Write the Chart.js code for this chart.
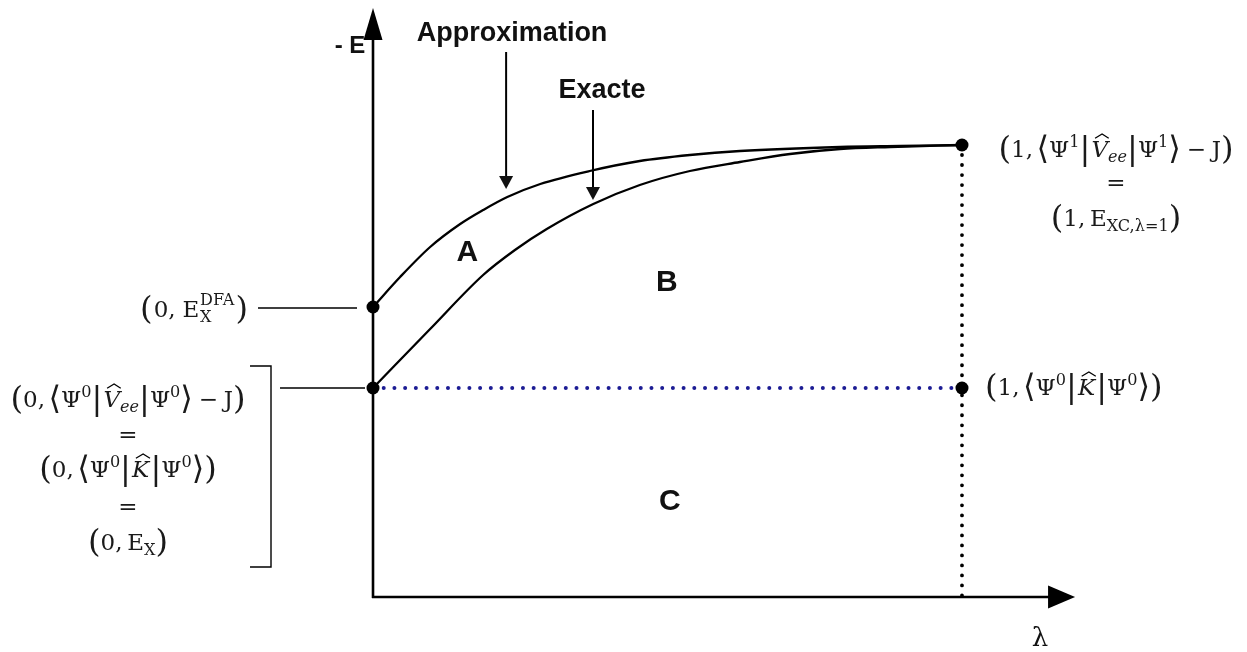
<!DOCTYPE html>
<html>
<head>
<meta charset="utf-8">
<title>Connexion adiabatique</title>
<script src="https://cdn.jsdelivr.net/npm/chart.js@4/dist/chart.umd.min.js"></script>
<style>
  html, body { margin: 0; padding: 0; background: #ffffff; }
  #wrap { width: 1247px; height: 652px; position: relative; }
</style>
</head>
<body>
<div id="wrap"><canvas id="chart"></canvas></div>
<script>
// Coupling constant λ (horizontal) against -E (vertical, arbitrary units).
const lambdaApprox = [0, 0.046, 0.097, 0.148, 0.187, 0.228, 0.284, 0.368, 0.453, 0.538, 0.623, 0.793, 0.895, 1];
const energyApprox = [2.90, 3.20, 3.50, 3.73, 3.87, 4.00, 4.13, 4.26, 4.36, 4.42, 4.46, 4.50, 4.51, 4.52];
const lambdaExact  = [0, 0.097, 0.187, 0.241, 0.295, 0.374, 0.453, 0.538, 0.623, 0.708, 0.793, 0.878, 1];
const energyExact  = [2.09, 2.68, 3.22, 3.47, 3.68, 3.93, 4.12, 4.26, 4.35, 4.43, 4.48, 4.50, 4.52];
const energyX   = 2.09;   // (0, E_X) = <Ψ0|K|Ψ0>
const energyDFA = 2.90;   // (0, E_X^DFA)
const energyXC1 = 4.52;   // (1, E_XC,λ=1)
const regionNames   = ['A', 'B', 'C'];
const regionLambda  = [0.160, 0.499, 0.504];
const regionEnergy  = [3.44, 3.14, 0.95];
const curveNames    = ['Approximation', 'Exacte'];
const curveArrowLambda = [0.226, 0.3735];
const axisLambdaEnd = 1.192;
const axisEnergyEnd = 5.89;

const SANS = '"Liberation Sans", Arial, sans-serif';
const SERIF = '"DejaVu Serif", "Liberation Serif", serif';

// typeset pieces of a formula: size factor, italic, vertical shift (in em)
const KIND = {
  n:    { scale: 1,   dy: 0 },
  i:    { scale: 1,   dy: 0, italic: true },
  d:    { scale: 1.4, dy: 0.12 },
  sup:  { scale: 0.7, dy: -0.42 },
  sub:  { scale: 0.7, dy: 0.22 },
  subi: { scale: 0.7, dy: 0.22, italic: true },
  hat:  { scale: 1,   dy: 0, italic: true, hat: true },
  stack:{ scale: 0.7, dy: 0 }
};
function kfont(kind, s) {
  const k = KIND[kind];
  return (k.italic ? 'italic ' : '') + (s * k.scale).toFixed(2) + 'px ' + SERIF;
}
function drawMath(ctx, parts, x, yc, align, s) {
  let total = 0;
  const items = parts.map(p => {
    const [t, kind, gap, t2] = p;
    ctx.font = kfont(kind, s);
    let w = ctx.measureText(t).width;
    if (kind === 'stack') w = Math.max(w, ctx.measureText(t2).width);
    total += w + (gap || 0) * s;
    return { t, kind, gap: gap || 0, t2, w };
  });
  let cx = align === 'center' ? x - total / 2 : align === 'right' ? x - total : x;
  const base = yc + 0.33 * s;
  ctx.textAlign = 'left';
  ctx.textBaseline = 'alphabetic';
  for (const it of items) {
    const k = KIND[it.kind];
    ctx.font = kfont(it.kind, s);
    if (it.kind === 'stack') {
      ctx.fillText(it.t, cx, base - 0.5 * s);
      ctx.fillText(it.t2, cx, base + 0.25 * s);
    } else {
      ctx.fillText(it.t, cx, base + k.dy * s);
    }
    if (k.hat) {
      ctx.save();
      ctx.lineWidth = 1.3;
      ctx.beginPath();
      ctx.moveTo(cx + 0.22 * it.w, base - 0.80 * s);
      ctx.lineTo(cx + 0.64 * it.w, base - 0.98 * s);
      ctx.lineTo(cx + 1.04 * it.w, base - 0.80 * s);
      ctx.stroke();
      ctx.restore();
    }
    cx += it.w + it.gap * s;
  }
}
function arrowDown(ctx, x, yTop, yTip, headW, headL) {
  ctx.beginPath();
  ctx.moveTo(x, yTop);
  ctx.lineTo(x, yTip - headL + 1);
  ctx.stroke();
  ctx.beginPath();
  ctx.moveTo(x, yTip);
  ctx.lineTo(x - headW / 2, yTip - headL);
  ctx.lineTo(x + headW / 2, yTip - headL);
  ctx.closePath();
  ctx.fill();
}

const diagram = {
  id: 'diagram',
  beforeDatasetsDraw(chart) {
    const { ctx, scales: { x, y } } = chart;
    const ox = x.getPixelForValue(0), oy = y.getPixelForValue(0);
    const tipY = y.getPixelForValue(axisEnergyEnd);
    const tipX = x.getPixelForValue(axisLambdaEnd);
    ctx.save();
    ctx.strokeStyle = '#000'; ctx.fillStyle = '#000'; ctx.lineWidth = 2.6;
    ctx.beginPath();
    ctx.moveTo(ox, oy + 1); ctx.lineTo(ox, tipY + 30);
    ctx.moveTo(ox - 1, oy); ctx.lineTo(tipX - 25, oy);
    ctx.stroke();
    ctx.beginPath();
    ctx.moveTo(ox, tipY); ctx.lineTo(ox - 9.5, tipY + 32); ctx.lineTo(ox + 9.5, tipY + 32); ctx.closePath();
    ctx.fill();
    ctx.beginPath();
    ctx.moveTo(tipX, oy); ctx.lineTo(tipX - 27, oy - 11.5); ctx.lineTo(tipX - 27, oy + 11.5); ctx.closePath();
    ctx.fill();
    ctx.restore();
  },
  afterDatasetsDraw(chart) {
    const { ctx, scales: { x, y } } = chart;
    const px = v => x.getPixelForValue(v), py = v => y.getPixelForValue(v);
    ctx.save();
    ctx.fillStyle = '#111'; ctx.strokeStyle = '#000';

    // axis titles
    ctx.font = 'bold 24px ' + SANS;
    ctx.textAlign = 'center'; ctx.textBaseline = 'middle';
    ctx.fillText('- E', px(0) - 23, py(axisEnergyEnd) + 38);
    ctx.font = '26px ' + SERIF;
    ctx.fillText('λ', px(axisLambdaEnd) - 35, py(0) + 42);

    // region names
    ctx.font = 'bold 30px ' + SANS;
    regionNames.forEach((t, i) => ctx.fillText(t, px(regionLambda[i]), py(regionEnergy[i])));

    // curve names with their pointers
    ctx.lineWidth = 2;
    const approxTip = py(energyApprox[5]) - 8;
    const exactTip = py(3.93) - 4;
    ctx.font = 'bold 27px ' + SANS;
    ctx.fillText(curveNames[0], px(curveArrowLambda[0]) + 6, py(axisEnergyEnd) + 26);
    ctx.fillText(curveNames[1], px(curveArrowLambda[1]) + 9, py(axisEnergyEnd) + 83);
    arrowDown(ctx, px(curveArrowLambda[0]), py(axisEnergyEnd) + 44, approxTip, 14, 13);
    arrowDown(ctx, px(curveArrowLambda[1]), py(axisEnergyEnd) + 102, exactTip, 14, 13);

    // connectors and bracket on the left
    const a = { x: px(0), y: py(energyDFA) };
    const b = { x: px(0), y: py(energyX) };
    ctx.lineWidth = 1.4;
    ctx.beginPath();
    ctx.moveTo(a.x - 115, a.y + 1); ctx.lineTo(a.x - 16, a.y + 1);
    ctx.moveTo(b.x - 93, b.y); ctx.lineTo(b.x - 8, b.y);
    ctx.moveTo(b.x - 123, b.y - 22); ctx.lineTo(b.x - 102, b.y - 22);
    ctx.lineTo(b.x - 102, b.y + 179); ctx.lineTo(b.x - 123, b.y + 179);
    ctx.stroke();

    ctx.fillStyle = '#1a1a1a';
    const s = 23;
    drawMath(ctx, [['(', 'd', 0.05], ['0,', 'n', 0.3], ['E', 'n', 0.03], ['DFA', 'stack', 0.05, 'X'], [')', 'd']],
      a.x - 125, a.y + 2, 'right', s);

    const lx = b.x - 245;
    drawMath(ctx, [['(', 'd'], ['0,', 'n', 0.15], ['⟨', 'd'], ['Ψ', 'n'], ['0', 'sup'], ['|', 'd', 0.05],
      ['V', 'hat'], ['ee', 'subi'], ['|', 'd'], ['Ψ', 'n'], ['0', 'sup'], ['⟩', 'd', 0.25], ['−', 'n', 0.25],
      ['J', 'n'], [')', 'd']], lx, b.y + 11, 'center', s);
    drawMath(ctx, [['=', 'n']], lx, b.y + 46, 'center', s);
    drawMath(ctx, [['(', 'd'], ['0,', 'n', 0.15], ['⟨', 'd'], ['Ψ', 'n'], ['0', 'sup'], ['|', 'd', 0.05],
      ['K', 'hat', 0.05], ['|', 'd'], ['Ψ', 'n'], ['0', 'sup'], ['⟩', 'd'], [')', 'd']], lx, b.y + 81, 'center', s);
    drawMath(ctx, [['=', 'n']], lx, b.y + 118, 'center', s);
    drawMath(ctx, [['(', 'd'], ['0,', 'n', 0.2], ['E', 'n'], ['X', 'sub'], [')', 'd']], lx, b.y + 154, 'center', s);

    // labels at λ = 1
    const c = { x: px(1), y: py(energyXC1) };
    const rx = c.x + 154;
    drawMath(ctx, [['(', 'd'], ['1,', 'n', 0.15], ['⟨', 'd'], ['Ψ', 'n'], ['1', 'sup'], ['|', 'd', 0.05],
      ['V', 'hat'], ['ee', 'subi'], ['|', 'd'], ['Ψ', 'n'], ['1', 'sup'], ['⟩', 'd', 0.25], ['−', 'n', 0.25],
      ['J', 'n'], [')', 'd']], rx, c.y + 4, 'center', s);
    drawMath(ctx, [['=', 'n']], rx, c.y + 37, 'center', s);
    drawMath(ctx, [['(', 'd'], ['1,', 'n', 0.2], ['E', 'n'], ['XC,λ=1', 'sub'], [')', 'd']], rx, c.y + 73, 'center', s);

    const d = { x: px(1), y: py(energyX) };
    drawMath(ctx, [['(', 'd'], ['1,', 'n', 0.15], ['⟨', 'd'], ['Ψ', 'n'], ['0', 'sup'], ['|', 'd', 0.05],
      ['K', 'hat', 0.05], ['|', 'd'], ['Ψ', 'n'], ['0', 'sup'], ['⟩', 'd'], [')', 'd']], d.x + 23, d.y - 1, 'left', s);
    ctx.restore();
  }
};

const xy = (xs, ys) => xs.map((v, i) => ({ x: v, y: ys[i] }));

new Chart(document.getElementById('chart'), {
  type: 'line',
  data: {
    datasets: [
      { label: 'Points', type: 'scatter', order: -1,
        data: [{ x: 0, y: energyDFA }, { x: 0, y: energyX }, { x: 1, y: energyXC1 }, { x: 1, y: energyX }],
        pointRadius: 6.5, pointHoverRadius: 6.5, backgroundColor: '#000', borderWidth: 0 },
      { label: curveNames[0], data: xy(lambdaApprox, energyApprox), borderColor: '#000', borderWidth: 2.3,
        pointRadius: 0, cubicInterpolationMode: 'monotone', fill: false },
      { label: curveNames[1], data: xy(lambdaExact, energyExact), borderColor: '#000', borderWidth: 2.3,
        pointRadius: 0, cubicInterpolationMode: 'monotone', fill: false },
      { label: 'K', data: [{ x: 0, y: energyX }, { x: 1, y: energyX }], borderColor: '#1c1c94', borderWidth: 4,
        borderDash: [0.01, 10.7], borderCapStyle: 'round', pointRadius: 0 },
      { label: 'λ = 1', data: [{ x: 1, y: energyXC1 }, { x: 1, y: 0 }], borderColor: '#000', borderWidth: 3.8,
        borderDash: [0.01, 10], borderCapStyle: 'round', pointRadius: 0 }
    ]
  },
  options: {
    responsive: true,
    maintainAspectRatio: false,
    animation: false,
    events: [],
    layout: { padding: 0, autoPadding: false },
    plugins: { legend: { display: false }, tooltip: { enabled: false } },
    scales: {
      x: { type: 'linear', min: -0.6333, max: 1.4839, display: false },
      y: { type: 'linear', min: -0.55, max: 5.97, display: false }
    }
  },
  plugins: [diagram]
});
</script>
</body>
</html>
